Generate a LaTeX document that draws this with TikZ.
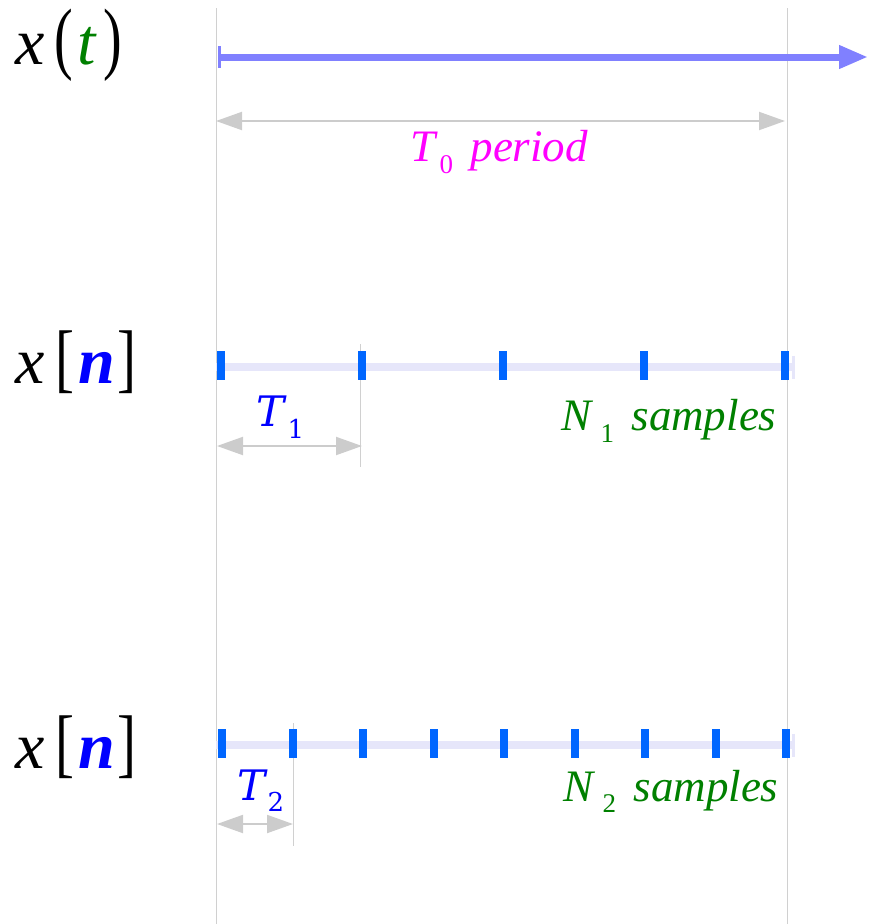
\documentclass[tikz,border=0pt]{standalone}
\usepackage{fontspec}
\setmainfont{Liberation Serif}
\newfontfamily\djs{DejaVu Serif}
\usetikzlibrary{arrows.meta}
\definecolor{sigblue}{HTML}{8080FF}
\definecolor{tickblue}{HTML}{0066FF}
\definecolor{lav}{HTML}{E6E6FA}
\definecolor{guide}{HTML}{D0D0D0}
\definecolor{dimgray}{HTML}{CCCCCC}
\definecolor{grn}{HTML}{008000}
\definecolor{mag}{HTML}{FF00FF}
\definecolor{pureblue}{HTML}{0000FF}
\newcommand\glat[2]{\rlap{\hspace{#1}#2}}
\newcommand\fsz[1]{\fontsize{#1}{#1}\selectfont}
\tikzset{
  guideline/.style={draw=guide, line width=1pt},
  dimarrow/.style={draw=dimgray, line width=2pt,
    {Triangle[length=26pt,width=18pt]}-{Triangle[length=26pt,width=18pt]}},
  rowline/.style={draw=lav, line width=8pt, -{Bar[width=23pt,line width=3pt]}},
  tickmark/.style={fill=tickblue},
  lbl/.style={anchor=base west, inner sep=0pt, outer sep=0pt},
}
\begin{document}
\begin{tikzpicture}[x=1pt,y=-1pt]
\useasboundingbox (0,0) rectangle (868,924);
% long guides
\coordinate (g0t) at (216.5,8); \coordinate (g0b) at (216.5,924);
\coordinate (g1t) at (787.5,8); \coordinate (g1b) at (787.5,924);
\draw[guideline] (g0t) -- (g0b);
\draw[guideline] (g1t) -- (g1b);
% short guides
\coordinate (s1t) at (360,344); \coordinate (s1b) at (360,467);
\draw[guideline] (s1t) -- (s1b);
\coordinate (s2t) at (293,723); \coordinate (s2b) at (293,846);
\draw[guideline] (s2t) -- (s2b);
% continuous signal arrow
\coordinate (sa) at (218,57); \coordinate (sb) at (868,57);
\draw[sigblue, line width=7pt, {Bar[width=22pt,line width=3pt]}-{Triangle[length=29pt,width=22pt]}] (sa) -- (sb);
% T0 dimension
\coordinate (t0a) at (216,121); \coordinate (t0b) at (785,121);
\draw[dimarrow] (t0a) -- (t0b);
\node[lbl, text=mag] (t0lbl) at (410,161) {\fsz{45}\itshape
  \glat{0pt}{T}\glat{29pt}{\raisebox{-12pt}{\fsz{27}\upshape 0}}\glat{60pt}{period}\hspace{183pt}};
% labels left
\node[lbl] (xt) at (15,64) {\fsz{66}%
  \glat{0pt}{\itshape x}%
  \glat{39pt}{\scalebox{0.7}[1]{\fsz{80}(}}%
  \glat{62pt}{\itshape\color{grn}t}%
  \glat{88pt}{\scalebox{0.7}[1]{\fsz{80})}}\hspace{106pt}};
\node[lbl] (xn1) at (15,383) {\fsz{66}%
  \glat{0pt}{\itshape x}%
  \glat{40pt}{\scalebox{0.75}[1]{\fsz{76}[}}%
  \glat{63pt}{\bfseries\itshape\color{pureblue}n}%
  \glat{102pt}{\scalebox{0.75}[1]{\fsz{76}]}}\hspace{116pt}};
\node[lbl] (xn2) at (15,768) {\fsz{66}%
  \glat{0pt}{\itshape x}%
  \glat{40pt}{\scalebox{0.75}[1]{\fsz{76}[}}%
  \glat{63pt}{\bfseries\itshape\color{pureblue}n}%
  \glat{102pt}{\scalebox{0.75}[1]{\fsz{76}]}}\hspace{116pt}};
% row 1
\coordinate (r1a) at (216,367); \coordinate (r1b) at (795,367);
\draw[rowline] (r1a) -- (r1b);
\foreach \k in {0,...,4}{
  \pgfmathsetmacro{\xx}{220.5+141.1*\k}
  \fill[tickmark] (\xx-4,351) rectangle (\xx+4,380);
}
\coordinate (t1a) at (217,446); \coordinate (t1b) at (362,446);
\draw[dimarrow] (t1a) -- (t1b);
\node[lbl, text=pureblue] (t1lbl) at (256,426) {\djs\fsz{42}%
  \glat{0pt}{\itshape T}\glat{31pt}{\raisebox{-12pt}{\fsz{26}1}}\hspace{46pt}};
\node[lbl, text=grn] (n1lbl) at (561,430) {\fsz{45}\itshape
  \glat{0pt}{N}\glat{39pt}{\raisebox{-12pt}{\fsz{27}\upshape 1}}\glat{70pt}{samples}\hspace{218pt}};
% row 2
\coordinate (r2a) at (216,745); \coordinate (r2b) at (795,745);
\draw[rowline] (r2a) -- (r2b);
\foreach \k in {0,...,8}{
  \pgfmathsetmacro{\xx}{222+70.5*\k}
  \fill[tickmark] (\xx-4,729) rectangle (\xx+4,758);
}
\coordinate (t2a) at (217,824); \coordinate (t2b) at (293,824);
\draw[dimarrow] (t2a) -- (t2b);
\node[lbl, text=pureblue] (t2lbl) at (237,800) {\djs\fsz{42}%
  \glat{0pt}{\itshape T}\glat{30pt}{\raisebox{-11pt}{\fsz{26}2}}\hspace{44pt}};
\node[lbl, text=grn] (n2lbl) at (563,801) {\fsz{45}\itshape
  \glat{0pt}{N}\glat{39pt}{\raisebox{-11pt}{\fsz{27}\upshape 2}}\glat{70pt}{samples}\hspace{218pt}};
\end{tikzpicture}
\end{document}
